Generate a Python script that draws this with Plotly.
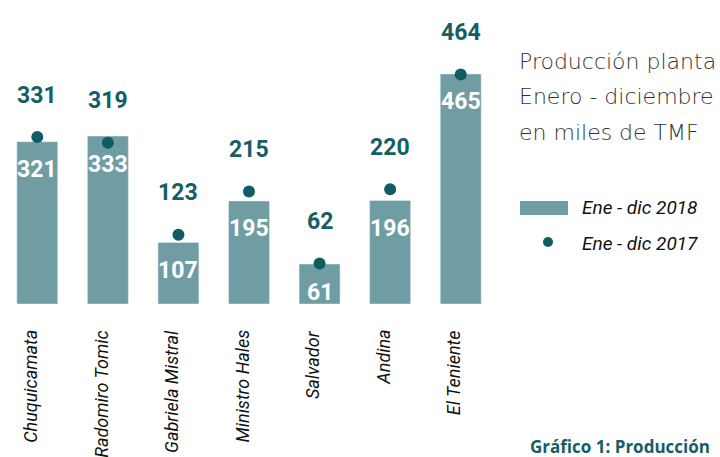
import plotly.graph_objects as go

categories = ["Chuquicamata", "Radomiro Tomic", "Gabriela Mistral", "Ministro Hales",
              "Salvador", "Andina", "El Teniente"]
prod_2018 = [321, 333, 107, 195, 61, 196, 465]
prod_2017 = [331, 319, 123, 215, 62, 220, 464]

BAR = "#709da3"
DOT = "#0f5c65"
LBL = "#145e67"
Y_MIN = -24  # the reference's value axis starts slightly below zero

fig = go.Figure()
fig.add_trace(go.Bar(x=categories, y=[v - Y_MIN for v in prod_2018], base=Y_MIN,
                     marker_color=BAR, width=0.58,
                     name="Ene - dic 2018", showlegend=False, hoverinfo="skip"))
fig.add_trace(go.Scatter(x=categories, y=prod_2017, mode="markers",
                         marker=dict(color=DOT, size=12), name="Ene - dic 2017",
                         showlegend=False, hoverinfo="skip"))

for c, v in zip(categories, prod_2018):
    fig.add_annotation(x=c, y=v, text=str(v), showarrow=False, yshift=-28,
                       font=dict(family="Roboto", size=23, color="white", weight="bold"))
for c, v in zip(categories, prod_2017):
    fig.add_annotation(x=c, y=v, text=str(v), showarrow=False, yshift=42,
                       font=dict(family="Roboto", size=23, color=LBL, weight="bold"))

# category labels
for c in categories:
    fig.add_annotation(x=c, y=0, yref="paper", text=c, showarrow=False, textangle=-90,
                       xanchor="center", yanchor="top", yshift=-24, xshift=-7,
                       font=dict(family="Roboto", size=18, color="#111111", style="italic"))

px_x = lambda p: (p - 2) / 494
px_y = lambda p: (304 - p) / 278

# Title block on the right
title_lines = ["Producción planta", "Enero - diciembre", "en miles de TMF"]
for i, t in enumerate(title_lines):
    fig.add_annotation(xref="paper", yref="paper", x=px_x(517), y=px_y(62 + 35 * i),
                       xanchor="left", yanchor="middle", text=t, showarrow=False,
                       font=dict(family="DejaVu Sans", size=22, color="#333333", weight=200))

# Custom legend
fig.add_shape(type="rect", xref="paper", yref="paper", x0=px_x(520), x1=px_x(568),
              y0=px_y(215), y1=px_y(201), fillcolor=BAR, line_width=0)
fig.add_shape(type="circle", xref="paper", yref="paper", x0=px_x(543), x1=px_x(553),
              y0=px_y(247), y1=px_y(237), fillcolor=DOT, line_width=0)
fig.add_annotation(xref="paper", yref="paper", x=px_x(580), y=px_y(208), xanchor="left",
                   yanchor="middle", text="Ene - dic 2018", showarrow=False,
                   font=dict(family="Roboto", size=19, color="#111111", style="italic"))
fig.add_annotation(xref="paper", yref="paper", x=px_x(580), y=px_y(243), xanchor="left",
                   yanchor="middle", text="Ene - dic 2017", showarrow=False,
                   font=dict(family="Roboto", size=19, color="#111111", style="italic"))

fig.add_annotation(xref="paper", yref="paper", x=px_x(528), y=px_y(446), xanchor="left",
                   yanchor="middle", text="Gráfico 1: Producción", showarrow=False,
                   font=dict(family="Open Sans", size=17, color=LBL, weight="bold"))

fig.update_layout(
    width=720, height=457,
    margin=dict(l=2, r=224, t=26, b=153),
    plot_bgcolor="white", paper_bgcolor="white",
    showlegend=False,
    xaxis=dict(showgrid=False, showline=False, zeroline=False, showticklabels=False,
               automargin=False, range=[-0.5, 6.5]),
    yaxis=dict(visible=False, range=[Y_MIN, 567], automargin=False),
)

fig.write_html("out.html", config={"displayModeBar": False},
               post_script="document.body.style.margin='0';")
